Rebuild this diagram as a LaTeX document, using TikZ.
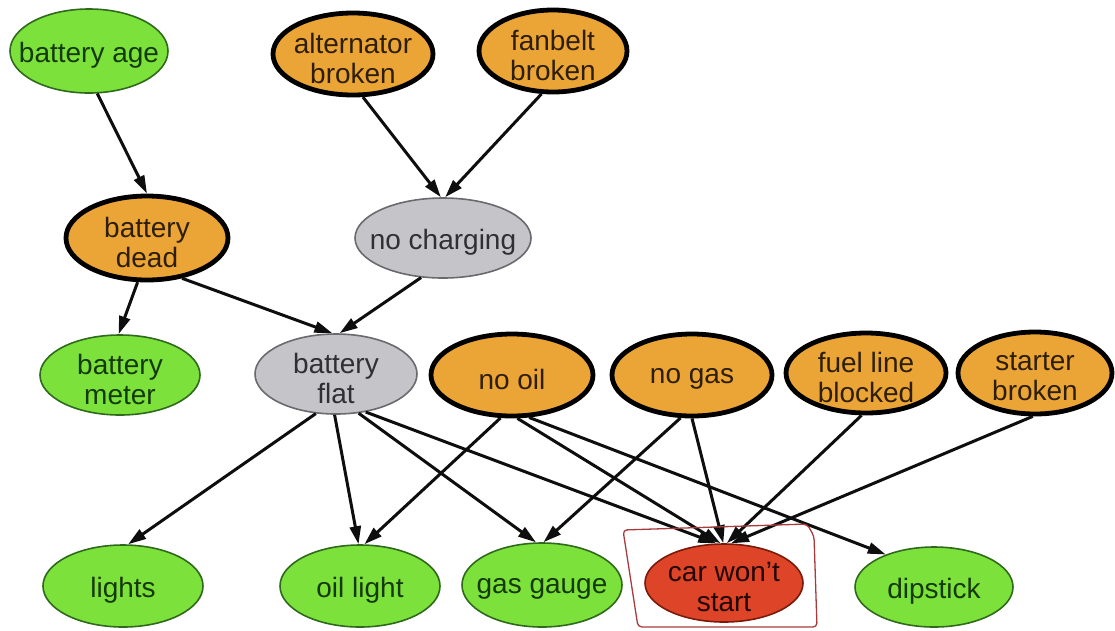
\documentclass[tikz,border=0pt]{standalone}
\usepackage{fontspec}
\setmainfont{Liberation Sans}
\usetikzlibrary{shapes.geometric,arrows.meta}

% node palette
\definecolor{causefill}{HTML}{EBA537}
\definecolor{causetext}{HTML}{2E1E06}
\definecolor{obsfill}{HTML}{7DE13C}
\definecolor{obsline}{HTML}{2F6A1C}
\definecolor{obstext}{HTML}{143A08}
\definecolor{midfill}{HTML}{C5C5C9}
\definecolor{midline}{HTML}{6A6A6E}
\definecolor{midtext}{HTML}{303034}
\definecolor{goalfill}{HTML}{DE4428}
\definecolor{goalline}{HTML}{7A1A0A}
\definecolor{goaltext}{HTML}{220600}
\definecolor{edge}{HTML}{0E0E0E}
\definecolor{markup}{HTML}{A83C3C}

\begin{document}
\begin{tikzpicture}[x=1pt,y=-1pt,
  every node/.style={inner sep=0pt},
  ev/.style 2 args={ellipse, minimum width=#1pt, minimum height=#2pt},
  cause/.style={draw=black, line width=4.8pt, fill=causefill},
  obs/.style={draw=obsline, line width=1.6pt, fill=obsfill},
  hidden/.style={draw=midline, line width=1.6pt, fill=midfill},
  goal/.style={draw=goalline, line width=1.6pt, fill=goalfill},
  txt/.style={font=\fontsize{28}{30}\selectfont, align=center, text=#1,
              yshift=-4pt, inner sep=0pt},
  link/.style={line width=3pt, draw=edge, -{Triangle[length=18pt,width=11pt]}},
  markbox/.style={draw=markup, line width=1.3pt, rounded corners=4pt},
]
\useasboundingbox (0,0) rectangle (1115,630);

% top row
\node[obs, ev={158}{84}, label={[txt=obstext]center:battery age}] (ba) at (89,51) {};
\node[cause, ev={160}{82}, label={[txt=causetext]center:alternator\\broken}] (al) at (353,54) {};
\node[cause, ev={148}{82}, label={[txt=causetext]center:fanbelt\\broken}] (fb) at (553,51) {};

% second row
\node[cause, ev={162}{84}, label={[txt=causetext]center:battery\\dead}] (bd) at (147,238) {};
\node[hidden, ev={176}{80}, label={[txt=midtext]center:no charging}] (nc) at (443,238) {};

% third row
\node[obs, ev={160}{80}, label={[txt=obstext]center:battery\\meter}] (bm) at (120,375) {};
\node[hidden, ev={162}{80}, label={[txt=midtext]center:battery\\flat}] (bf) at (336,374) {};
\node[cause, ev={162}{82}, label={[txt=causetext]center:no oil}] (no) at (512,375) {};
\node[cause, ev={160}{82}, label={[txt=causetext]center:no gas}] (ng) at (692,375) {};
\node[cause, ev={160}{80}, label={[txt=causetext]center:fuel line\\blocked}] (fl) at (866,373) {};
\node[cause, ev={154}{82}, label={[txt=causetext]center:starter\\broken}] (sb) at (1035,373) {};

% bottom row
\node[obs, ev={160}{82}, label={[txt=obstext]center:lights}] (li) at (123,586) {};
\node[obs, ev={160}{82}, label={[txt=obstext]center:oil light}] (ol) at (360,586) {};
\node[obs, ev={160}{84}, label={[txt=obstext]center:gas gauge}] (gg) at (542,585) {};
\node[goal, ev={158}{78}, label={[txt=goaltext]center:car won’t\\start}] (cw) at (724,583) {};
\node[obs, ev={158}{80}, label={[txt=obstext]center:dipstick}] (dp) at (934,587) {};

% causal links
\draw[link] (ba.281) -- (bd.90);
\draw[link] (al.283) -- (nc.93);
\draw[link] (fb.255) -- (nc.87);
\draw[link] (bd.258) -- (bm.92);
\draw[link] (bd.311) -- (bf.95);
\draw[link] (nc.241) -- (bf.85);
\draw[link] (bf.243) -- (li.83);
\draw[link] (bf.268) -- (ol.92);
\draw[link] (bf.300) -- (gg.98);
\draw[link] (bf.308) -- (cw.101);
\draw[link] (no.255) -- (ol.84);
\draw[link] (no.277) -- (cw.95);
\draw[link] (no.292) -- (dp.146);
\draw[link] (ng.255) -- (gg.88);
\draw[link] (ng.270) -- (cw.91);
\draw[link] (fl.264) -- (cw.86);
\draw[link] (sb.267) -- (cw.80);

% hand-drawn frame around the query node
\draw[markbox] (623,530) -- (807,524) -- (814,536) -- (817,627) -- (638,627) -- cycle;
\end{tikzpicture}
\end{document}
